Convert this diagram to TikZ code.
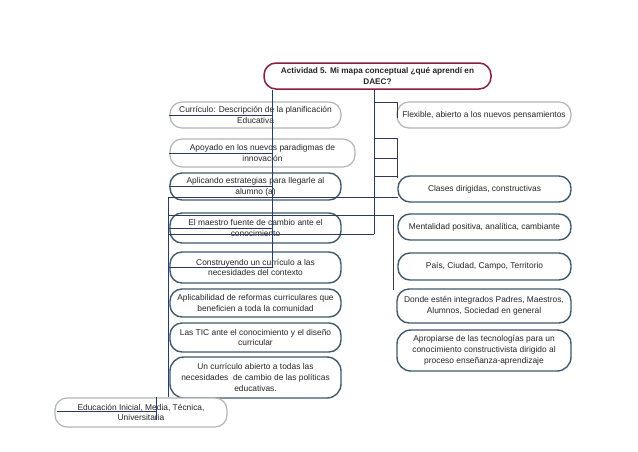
\documentclass[tikz,border=0pt]{standalone}
\usepackage{fontspec}
\setmainfont{Liberation Sans}
\definecolor{darkb}{HTML}{405A6E}
\definecolor{grayb}{HTML}{B4B4B4}
\definecolor{linec}{HTML}{2E3A5C}
\definecolor{titleb}{HTML}{8C1D40}
\definecolor{txt}{HTML}{262626}
\tikzset{
 box/.style={draw, fill=white, rounded corners=12pt, align=center, inner sep=0pt,
   font=\fontsize{8.4}{10.8}\selectfont, text=txt, line width=1.4pt},
 darkbox/.style={box, draw=darkb},
 graybox/.style={box, draw=grayb, line width=1.2pt},
 titlebox/.style={box, draw=titleb, line width=1.5pt, font=\bfseries\fontsize{8.2}{11}\selectfont},
 conn/.style={draw=linec, line width=0.6pt},
}
\begin{document}
\begin{tikzpicture}[x=1pt,y=-1pt]
\useasboundingbox[fill=white] (0,0) rectangle (638,451);
% title
\node[titlebox, minimum width=227pt, minimum height=26pt] (title) at (377.5,76)
  {Actividad 5. Mi mapa conceptual ¿qué aprendí en\\DAEC?};
% left column
\node[graybox, minimum width=171pt, minimum height=26pt] (cur) at (255.5,115)
  {Currículo: Descripción de la planificación\\Educativa};
\node[graybox, minimum width=185pt, minimum height=28pt] (apo) at (262.5,153)
  {Apoyado en los nuevos paradigmas de\\innovación};
\node[darkbox, minimum width=171pt, minimum height=27pt] (apl) at (255.5,186.5)
  {Aplicando estrategias para llegarle al\\alumno (a)};
\node[darkbox, minimum width=171pt, minimum height=30pt] (mae) at (255.5,228)
  {El maestro fuente de cambio ante el\\conocimiento};
\node[darkbox, minimum width=171pt, minimum height=31pt] (con) at (255.5,267.5)
  {Construyendo un currículo a las\\necesidades del contexto};
\node[darkbox, minimum width=171pt, minimum height=28pt] (apb) at (255.5,303)
  {Aplicabilidad de reformas curriculares que\\beneficien a toda la comunidad};
\node[darkbox, minimum width=171pt, minimum height=29pt] (tic) at (255.5,337.5)
  {Las TIC ante el conocimiento y el diseño\\curricular};
\node[darkbox, minimum width=171pt, minimum height=41pt, rounded corners=14pt] (unc) at (255.5,377.5)
  {Un currículo abierto a todas las\\necesidades~ de cambio de las políticas\\educativas.};
\node[graybox, minimum width=172pt, minimum height=29pt] (edu) at (141,412.5)
  {Educación Inicial, Media, Técnica,\\Universitaria};
% right column
\node[graybox, minimum width=174pt, minimum height=26pt] (fle) at (484,115)
  {Flexible, abierto a los nuevos pensamientos};
\node[darkbox, minimum width=173pt, minimum height=26pt] (cla) at (484.5,189)
  {Clases dirigidas, constructivas};
\node[darkbox, minimum width=173pt, minimum height=26pt] (men) at (484.5,227)
  {Mentalidad positiva, analítica, cambiante};
\node[darkbox, minimum width=173pt, minimum height=27pt] (pai) at (484.5,266.5)
  {País, Ciudad, Campo, Territorio};
\node[darkbox, minimum width=174pt, minimum height=34pt] (don) at (484,306)
  {Donde estén integrados Padres, Maestros,\\Alumnos, Sociedad en general};
\node[darkbox, minimum width=174pt, minimum height=41pt, rounded corners=14pt] (apr) at (484,350.5)
  {Apropiarse de las tecnologías para un\\conocimiento constructivista dirigido al\\proceso enseñanza-aprendizaje};
% connector columns
\coordinate (xA) at (272,0);
\coordinate (xB) at (374,0);
\coordinate (xC) at (397,0);
\coordinate (xD) at (393,0);
\coordinate (xE) at (168,0);
\coordinate (xF) at (156,0);
% trunk A and left branches
\draw[conn] (title.south -| xA) -- (con.west -| xA);
\foreach \n in {cur,apo,apl,mae,con} \draw[conn] (\n.west) -- (\n.west -| xA);
% trunk B
\coordinate (bEnd) at (374,234);
\draw[conn] (title.south -| xB) -- (bEnd);
\coordinate (f1) at (374,102); \coordinate (f2) at (397,102); \coordinate (f3) at (397,118);
\draw[conn] (f1) -- (f2) -- (f3);
\coordinate (g1) at (374,138); \coordinate (g2) at (397,138); \coordinate (g3) at (397,178);
\draw[conn] (g1) -- (g2) -- (g3);
\coordinate (h1) at (374,158); \coordinate (h2) at (397,158);
\draw[conn] (h1) -- (h2);
\coordinate (k1) at (374,176); \coordinate (k2) at (397,176);
\draw[conn] (k1) -- (k2);
% cross lines
\coordinate (m1) at (168,197); \coordinate (m2) at (398,197);
\draw[conn] (m1) -- (m2);
\coordinate (n1) at (168,215); \coordinate (n2) at (393,215); \coordinate (n3) at (393,290);
\draw[conn] (n1) -- (n2) -- (n3);
\coordinate (p1) at (168,234);
\draw[conn] (p1) -- (bEnd);
\draw[conn] (m1) -- (edu.north -| xE);
% bottom box marks
\coordinate (q2) at (156,420); \coordinate (r1) at (57,411); \coordinate (r2) at (156,411);
\draw[conn] (edu.north -| xF) -- (q2);
\draw[conn] (r1) -- (r2);
\end{tikzpicture}
\end{document}
